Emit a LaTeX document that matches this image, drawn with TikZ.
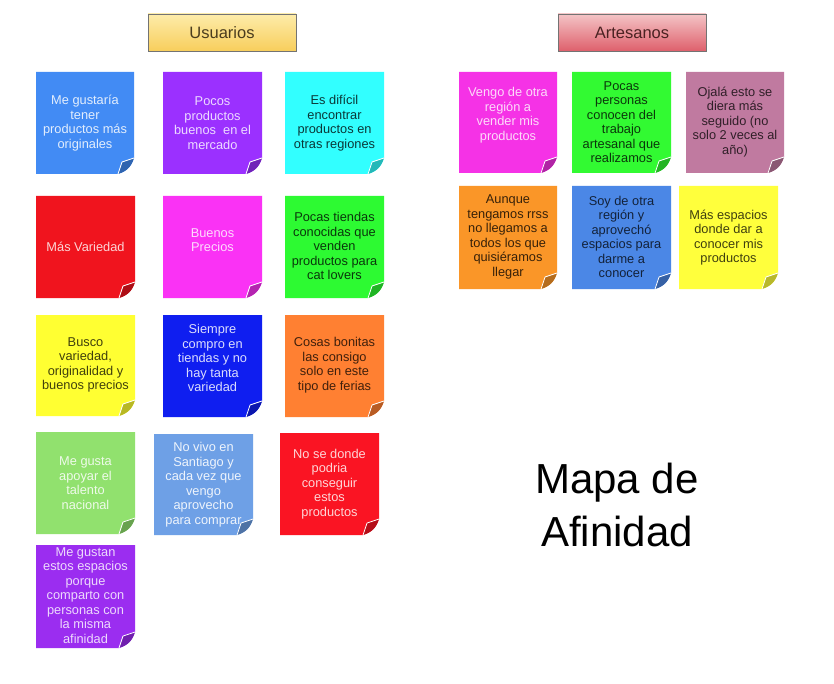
\documentclass[tikz,border=0pt]{standalone}
\usepackage{fontspec}
\setmainfont{Liberation Sans}
\definecolor{cUa}{RGB}{66,139,244}
\definecolor{cUb}{RGB}{155,48,255}
\definecolor{cUc}{RGB}{50,255,255}
\definecolor{cUd}{RGB}{240,20,30}
\definecolor{cUe}{RGB}{250,50,245}
\definecolor{cUf}{RGB}{45,250,50}
\definecolor{cUg}{RGB}{255,255,50}
\definecolor{cUh}{RGB}{15,30,240}
\definecolor{cUi}{RGB}{255,128,50}
\definecolor{cUj}{RGB}{145,225,110}
\definecolor{cUk}{RGB}{110,160,230}
\definecolor{cUl}{RGB}{250,20,35}
\definecolor{cUm}{RGB}{155,45,240}
\definecolor{cAa}{RGB}{245,50,230}
\definecolor{cAb}{RGB}{50,250,50}
\definecolor{cAc}{RGB}{192,122,160}
\definecolor{cAd}{RGB}{250,150,40}
\definecolor{cAe}{RGB}{75,135,230}
\definecolor{cAf}{RGB}{255,255,60}
\definecolor{hdrtextU}{RGB}{74,60,30}
\definecolor{hdrtextA}{RGB}{74,34,34}
\tikzset{
  notetext/.style={align=center, inner sep=0pt, font=\fontsize{12.8}{14.5}\selectfont},
  header/.style={draw=black!55, line width=0.8pt, minimum width=148pt, minimum height=37pt,
     inner sep=0pt, font=\fontsize{16.5}{19}\selectfont},
}
\newcommand{\stickynote}[9]{%
  \fill[#6] (#2,#3) -- (#4,#3) -- (#4,#5-16) .. controls (#4-3,#5-7) and (#4-7,#5-3) .. (#4-16,#5) -- (#2,#5) -- cycle;
  \fill[#6!72!black] (#4-16,#5) -- (#4-12,#5-12) -- (#4,#5-16) .. controls (#4-3,#5-7) and (#4-7,#5-3) .. (#4-16,#5) -- cycle;
  \draw[white, line width=0.8pt, line join=round] (#4-16,#5) -- (#4-12,#5-12) -- (#4,#5-16);
  \node[notetext, text=#7] (#1) at ({(#2+#4)/2},#8) {#9};
}
\begin{document}
\begin{tikzpicture}[x=1pt, y=-1pt]
\useasboundingbox[fill=white] (0,0) rectangle (834,684);
% headers
\node[header, top color={rgb,255:red,253;green,236;blue,170}, bottom color={rgb,255:red,248;green,206;blue,92}, text=hdrtextU] (husu) at (222,32.5) {Usuarios};
\node[header, top color={rgb,255:red,244;green,196;blue,198}, bottom color={rgb,255:red,222;green,96;blue,108}, text=hdrtextA] (hart) at (632,32.5) {Artesanos};
% Usuarios
\stickynote{u1}{36}{72}{134}{174}{cUa}{cUa!15!white}{123}{Me gustaría\\tener\\productos más\\originales}
\stickynote{u2}{163}{72}{262}{174}{cUb}{cUb!18!white}{123}{Pocos\\productos\\buenos\ \ en el\\mercado}
\stickynote{u3}{285}{72}{384}{174}{cUc}{cUc!22!black}{123}{Es difícil\\encontrar\\productos en\\otras regiones}
\stickynote{u4}{36}{196}{135}{298}{cUd}{cUd!18!white}{247}{Más Variedad}
\stickynote{u5}{163}{196}{262}{298}{cUe}{cUe!18!white}{240}{Buenos\\Precios}
\stickynote{u6}{285}{196}{384}{298}{cUf}{cUf!22!black}{246}{Pocas tiendas\\conocidas que\\venden\\productos para\\cat lovers}
\stickynote{u7}{36}{315}{135}{416}{cUg}{cUg!25!black}{365}{Busco\\variedad,\\originalidad y\\buenos precios}
\stickynote{u8}{163}{315}{262}{417}{cUh}{cUh!15!white}{358}{Siempre\\compro en\\tiendas y no\\hay tanta\\variedad}
\stickynote{u9}{285}{315}{384}{417}{cUi}{cUi!25!black}{365}{Cosas bonitas\\las consigo\\solo en este\\tipo de ferias}
\stickynote{u10}{36}{432}{135}{534}{cUj}{cUj!15!white}{483}{Me gusta\\apoyar el\\talento\\nacional}
\stickynote{u11}{154}{434}{253}{535}{cUk}{cUk!12!white}{484.5}{No vivo en\\Santiago y\\cada vez que\\vengo\\aprovecho\\para comprar}
\stickynote{u12}{280}{433}{379}{535}{cUl}{cUl!18!white}{484}{No se donde\\podria\\conseguir\\estos\\productos}
\stickynote{u13}{36}{545}{135}{648}{cUm}{cUm!18!white}{595.5}{Me gustan\\estos espacios\\porque\\comparto con\\personas con\\la misma\\afinidad}
% Artesanos
\stickynote{a1}{459}{72}{557}{173}{cAa}{cAa!18!white}{115}{Vengo de otra\\región a\\vender mis\\productos}
\stickynote{a2}{572}{72}{671}{173}{cAb}{cAb!22!black}{122}{Pocas\\personas\\conocen del\\trabajo\\artesanal que\\realizamos}
\stickynote{a3}{686}{72}{784}{173}{cAc}{cAc!25!black}{122}{Ojalá esto se\\diera más\\seguido (no\\solo 2 veces al\\año)}
\stickynote{a4}{459}{186}{557}{289}{cAd}{cAd!22!black}{237}{Aunque\\tengamos rrss\\no llegamos a\\todos los que\\quisiéramos\\llegar}
\stickynote{a5}{572}{186}{671}{289}{cAe}{cAe!25!black}{237}{Soy de otra\\región y\\aprovechó\\espacios para\\darme a\\conocer}
\stickynote{a6}{679}{186}{778}{289}{cAf}{cAf!25!black}{237.5}{Más espacios\\donde dar a\\conocer mis\\productos}
% title
\node[align=center, inner sep=0pt, font=\fontsize{42}{53}\selectfont] (title) at (617,505) {Mapa de\\Afinidad};
\end{tikzpicture}
\end{document}
